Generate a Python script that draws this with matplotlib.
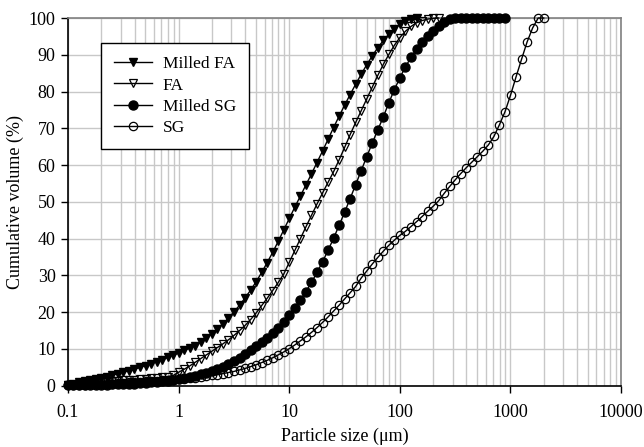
import matplotlib
matplotlib.use("Agg")
import matplotlib.pyplot as plt
from matplotlib.ticker import LogLocator, FixedLocator, NullFormatter

plt.rcParams['font.family'] = ['Liberation Serif', 'DejaVu Serif']

# instrument size classes (um), 0.1 - 2000
sizes = [0.100, 0.112, 0.126, 0.142, 0.159, 0.178, 0.200, 0.224, 0.252, 0.283,
         0.317, 0.356, 0.399, 0.448, 0.502, 0.564, 0.632, 0.710, 0.796, 0.893,
         1.002, 1.125, 1.262, 1.416, 1.589, 1.783, 2.000, 2.244, 2.518, 2.825,
         3.170, 3.557, 3.991, 4.477, 5.024, 5.637, 6.325, 7.096, 7.962, 8.934,
         10.024, 11.247, 12.619, 14.159, 15.887, 17.825, 20.000, 22.440, 25.179, 28.251,
         31.698, 35.566, 39.905, 44.774, 50.238, 56.368, 63.246, 70.963, 79.621, 89.337,
         100.237, 112.468, 126.191, 141.589, 158.866, 178.250, 200.000, 224.404, 251.785, 282.508,
         316.979, 355.656, 399.052, 447.744, 502.377, 563.677, 632.456, 709.627, 796.214, 893.367,
         1002.374, 1124.683, 1261.915, 1415.892, 1588.656, 1782.502, 2000.000]

milled_fa = [0.3, 0.6, 0.9, 1.2, 1.5, 1.8, 2.1, 2.5, 2.9, 3.3,
             3.7, 4.1, 4.5, 5.0, 5.5, 6.0, 6.5, 7.1, 7.7, 8.3,
             8.9, 9.6, 10.3, 10.9, 11.9, 13.0, 14.2, 15.5, 16.9, 18.4,
             20.1, 21.9, 23.9, 26.0, 28.3, 30.8, 33.5, 36.3, 39.3, 42.4,
             45.5, 48.6, 51.6, 54.6, 57.6, 60.7, 63.8, 67.0, 70.2, 73.3,
             76.3, 79.2, 82.0, 84.7, 87.3, 89.7, 91.9, 93.9, 95.6, 97.1,
             98.3, 99.2, 99.8, 100.0]

fa = [0.2, 0.3, 0.4, 0.5, 0.6, 0.8, 0.9, 1.1, 1.2, 1.4,
      1.5, 1.6, 1.7, 1.8, 1.9, 2.0, 2.1, 2.3, 2.5, 2.8,
      3.7, 4.5, 5.4, 6.4, 7.4, 8.4, 9.4, 10.4, 11.4, 12.5,
      13.7, 15.0, 16.4, 18.0, 19.8, 21.8, 23.8, 25.9, 28.1, 30.4,
      33.6, 36.8, 40.0, 43.2, 46.3, 49.4, 52.4, 55.3, 58.2, 61.4,
      64.8, 68.3, 71.6, 74.8, 78.0, 81.2, 84.4, 87.4, 90.1, 92.6,
      94.7, 96.4, 97.7, 98.7, 99.3, 99.7, 99.9, 100.0]

milled_sg = [0.1, 0.1, 0.1, 0.2, 0.2, 0.2, 0.3, 0.3, 0.4, 0.4,
             0.5, 0.5, 0.6, 0.7, 0.8, 0.9, 1.0, 1.2, 1.4, 1.6,
             1.8, 2.1, 2.4, 2.7, 3.1, 3.5, 4.0, 4.6, 5.2, 5.9,
             6.7, 7.6, 8.6, 9.6, 10.7, 11.8, 13.0, 14.3, 15.8, 17.4,
             19.2, 21.2, 23.3, 25.6, 28.1, 30.8, 33.7, 36.8, 40.1, 43.6,
             47.2, 50.9, 54.7, 58.5, 62.3, 66.0, 69.6, 73.1, 77.0, 80.5,
             83.8, 86.7, 89.3, 91.5, 93.4, 95.0, 96.4, 97.9, 98.9, 99.6,
             100.0, 100.0, 100.0, 100.0, 100.0, 100.0, 100.0, 100.0, 100.0, 100.0]

sg = [0.15, 0.2, 0.25, 0.3, 0.35, 0.4, 0.45, 0.5, 0.6, 0.7,
      0.8, 0.9, 1.0, 1.1, 1.2, 1.3, 1.4, 1.5, 1.6, 1.7,
      1.8, 1.9, 2.0, 2.2, 2.4, 2.6, 2.8, 3.0, 3.3, 3.6,
      3.9, 4.3, 4.7, 5.2, 5.7, 6.3, 6.9, 7.6, 8.4, 9.2,
      10.1, 11.1, 12.2, 13.3, 14.5, 15.8, 17.2, 18.7, 20.3, 21.9,
      23.6, 25.3, 27.0, 29.3, 31.2, 33.1, 34.9, 36.6, 38.2, 39.6,
      40.9, 42.0, 43.3, 44.6, 46.0, 47.4, 48.8, 50.3, 52.3, 54.2,
      56.0, 57.7, 59.3, 60.8, 62.3, 63.8, 65.5, 67.8, 71.0, 74.5,
      79.0, 84.0, 88.8, 93.5, 97.3, 100.0, 100.0]

x_ticks = [0.1, 1, 10, 100, 1000, 10000]
x_labels = ['0.1', '1', '10', '100', '1000', '10000']

fig = plt.figure(figsize=(6.44, 4.47), dpi=100)
ax = fig.add_axes([0.1056, 0.137, 0.8587, 0.8227])

ax.plot(sizes[:len(milled_fa)], milled_fa, color='black', lw=1, marker='v',
        ms=6, mfc='black', mec='black', label='Milled FA', clip_on=False, zorder=4)
ax.plot(sizes[:len(fa)], fa, color='black', lw=1, marker='v',
        ms=6, mfc='none', mec='black', mew=0.9, label='FA', clip_on=False, zorder=4)
ax.plot(sizes[:len(milled_sg)], milled_sg, color='black', lw=1, marker='o',
        ms=6.5, mfc='black', mec='black', label='Milled SG', clip_on=False, zorder=4)
ax.plot(sizes[:len(sg)], sg, color='black', lw=1, marker='o',
        ms=6, mfc='none', mec='black', mew=0.9, label='SG', clip_on=False, zorder=4)

ax.set_xscale('log')
ax.set_xlim(0.1, 10000)
ax.set_ylim(0, 100)
ax.xaxis.set_major_locator(FixedLocator(x_ticks))
ax.set_xticklabels(x_labels)
ax.xaxis.set_minor_locator(LogLocator(base=10, subs=range(2, 10)))
ax.xaxis.set_minor_formatter(NullFormatter())
ax.set_yticks(range(0, 101, 10))

ax.grid(True, which='both', axis='x', color='#c8c8c8', lw=1)
ax.grid(True, which='major', axis='y', color='#c8c8c8', lw=1)
ax.set_axisbelow(True)

ax.tick_params(axis='both', which='major', direction='out', length=5,
               width=1, labelsize=13)
ax.tick_params(axis='x', which='major', pad=8)
ax.tick_params(axis='y', which='major', pad=4)
ax.tick_params(axis='x', which='minor', length=0)

for side in ['top', 'right']:
    ax.spines[side].set_color('#808080')
    ax.spines[side].set_linewidth(1.2)
for side in ['left', 'bottom']:
    ax.spines[side].set_color('black')
    ax.spines[side].set_linewidth(1.2)

ax.set_xlabel('Particle size (μm)', fontsize=13, labelpad=5)
ax.set_ylabel('Cumulative volume (%)', fontsize=13, labelpad=3)

leg = ax.legend(loc='upper left', bbox_to_anchor=(0.0597, 0.932), fontsize=12.5,
                frameon=True, fancybox=False, edgecolor='black', framealpha=1,
                borderaxespad=0, handlelength=2.2, borderpad=0.75,
                labelspacing=0.3, handletextpad=0.6)
leg.get_frame().set_linewidth(1)

fig.savefig('out.png', dpi=100)
